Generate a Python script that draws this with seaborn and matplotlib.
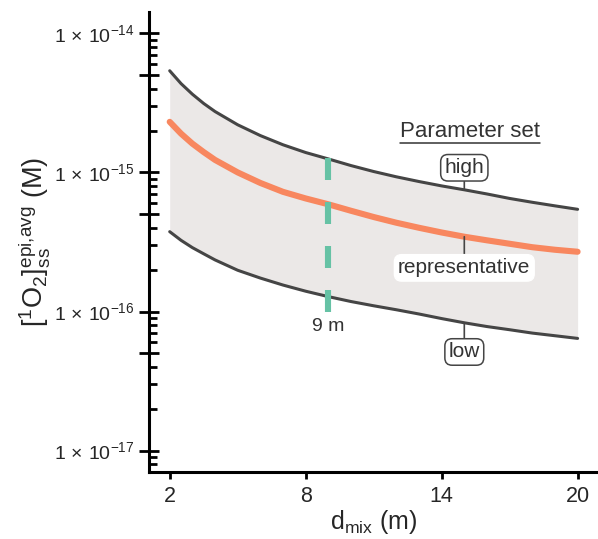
import numpy as np
import pandas as pd
import seaborn as sns
import matplotlib.pyplot as plt
from matplotlib.lines import Line2D
from matplotlib.ticker import FixedLocator, LogLocator, FuncFormatter, NullFormatter

# mixing depth (m) and steady-state 1O2 for the three parameter sets
d_mix = [2, 2.5, 3, 3.5, 4, 5, 6, 7, 8, 9, 10, 11, 12, 13, 14, 15, 16, 17, 18, 19, 20]
high = [5.38e-15, 4.35e-15, 3.65e-15, 3.13e-15, 2.74e-15, 2.2e-15, 1.84e-15, 1.58e-15,
        1.39e-15, 1.25e-15, 1.12e-15, 1.015e-15, 9.3e-16, 8.6e-16, 8.0e-16, 7.5e-16,
        7.0e-16, 6.5e-16, 6.1e-16, 5.75e-16, 5.43e-16]
representative = [2.31e-15, 1.9e-15, 1.61e-15, 1.4e-15, 1.23e-15, 1.0e-15, 8.4e-16, 7.25e-16,
                  6.5e-16, 5.9e-16, 5.3e-16, 4.78e-16, 4.35e-16, 4.0e-16, 3.7e-16, 3.45e-16,
                  3.25e-16, 3.07e-16, 2.9e-16, 2.78e-16, 2.69e-16]
low = [3.75e-16, 3.25e-16, 2.88e-16, 2.6e-16, 2.35e-16, 1.98e-16, 1.74e-16, 1.55e-16,
       1.4e-16, 1.28e-16, 1.18e-16, 1.1e-16, 1.03e-16, 9.6e-17, 8.9e-17, 8.3e-17,
       7.8e-17, 7.4e-17, 7.0e-17, 6.7e-17, 6.41e-17]

# 9 m marker
marker_depth = 9
marker_span = [1.28e-15, 1e-16]

x_ticks = [2, 8, 14, 20]
label_depth = 15

sns.set_theme(style='ticks')
plt.rcParams['font.family'] = ['Liberation Sans', 'DejaVu Sans']
plt.rcParams['mathtext.fontset'] = 'custom'
plt.rcParams['mathtext.rm'] = 'Liberation Sans'
plt.rcParams['mathtext.it'] = 'Liberation Sans:italic'

df = pd.DataFrame({'d_mix': d_mix, 'high': high,
                   'representative': representative, 'low': low})

fig = plt.figure(figsize=(5.98, 5.39), dpi=100)
ax = fig.add_axes([0.2497, 0.1249, 0.7503, 0.8534])

gray = '#454545'
ax.fill_between(df['d_mix'], df['low'], df['high'], color='#ebe8e7', lw=0, zorder=1)
sns.lineplot(data=df, x='d_mix', y='high', color=gray, lw=2.2, ax=ax, zorder=3)
sns.lineplot(data=df, x='d_mix', y='low', color=gray, lw=2.2, ax=ax, zorder=3)
sns.lineplot(data=df, x='d_mix', y='representative', color='#f8875f', lw=4.4, ax=ax, zorder=4)

ax.plot([marker_depth, marker_depth], marker_span, color='#66c2a5', lw=4.4,
        dashes=(3.6, 3.6), dash_capstyle='butt', zorder=5)
ax.text(marker_depth, 7.8e-17, '9 m', ha='center', va='center', fontsize=14, color='#333333')

ax.set_yscale('log')
ax.set_xlim(1.1, 20.9)
ax.set_ylim(7.06e-18, 1.43e-14)

# labels for each parameter set
box = dict(boxstyle='round,pad=0.18,rounding_size=0.35', fc='white', ec=gray, lw=1.1)
arrow = dict(arrowstyle='-', color=gray, lw=1.2, shrinkA=0, shrinkB=0)
i15 = d_mix.index(label_depth)
ax.annotate('high', xy=(label_depth, high[i15]), xytext=(label_depth, 1.08e-15),
            ha='center', va='center', fontsize=15, color='#333333', bbox=box,
            arrowprops=arrow, zorder=6)
ax.annotate('representative', xy=(label_depth, representative[i15]), xytext=(label_depth, 2.06e-16),
            ha='center', va='center', fontsize=15, color='#333333',
            bbox=dict(boxstyle='round,pad=0.18,rounding_size=0.35', fc='white', ec='white', lw=1),
            arrowprops=arrow, zorder=6)
ax.annotate('low', xy=(label_depth, low[i15]), xytext=(label_depth, 5.12e-17),
            ha='center', va='center', fontsize=15, color='#333333', bbox=box,
            arrowprops=arrow, zorder=6)
title = ax.text(label_depth + 0.24, 1.96e-15, 'Parameter set', ha='center', va='center',
                fontsize=16, color='#333333')

# axes styling
sns.despine(ax=ax)
for s in ['left', 'bottom']:
    ax.spines[s].set_linewidth(2.2)
    ax.spines[s].set_color('black')

ax.yaxis.set_major_locator(FixedLocator([1e-17, 5e-17, 1e-16, 5e-16, 1e-15, 5e-15, 1e-14]))
ax.yaxis.set_minor_locator(LogLocator(base=10, subs=[2, 3, 4, 6, 7, 8, 9]))


def fmt(v, pos):
    e = np.log10(v)
    if abs(e - round(e)) < 1e-6:
        return r'$1\,\times\,10^{%d}$' % round(e)
    return ''


ax.yaxis.set_major_formatter(FuncFormatter(fmt))
ax.yaxis.set_minor_formatter(NullFormatter())
ax.tick_params(axis='y', which='major', direction='inout', length=15, width=2,
               labelsize=14, pad=3, color='black')
ax.tick_params(axis='y', which='minor', direction='in', length=6, width=2, color='black')
ax.set_xticks(x_ticks)
ax.tick_params(axis='x', which='major', direction='out', length=5, width=2,
               labelsize=15.5, pad=5, color='black')

ax.set_xlabel(r'd$_{\mathrm{mix}}$ (m)', fontsize=18, labelpad=1)
ax.set_ylabel(r'$[^{1}\mathrm{O}_{2}]^{\mathrm{epi{,}avg}}_{\mathrm{ss}}$ (M)', fontsize=19.5, labelpad=1)

# underline the legend title
fig.canvas.draw()
bb = title.get_window_extent().transformed(fig.transFigure.inverted())
fig.add_artist(Line2D([bb.x0, bb.x1], [bb.y0 - 0.002, bb.y0 - 0.002],
                      transform=fig.transFigure, color='#333333', lw=1.1))

fig.savefig('out.png', dpi=100)
